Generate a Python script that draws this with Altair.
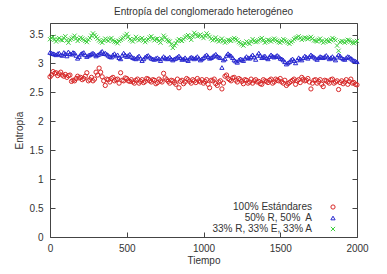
import altair as alt
import pandas as pd

tiempo_a = list(range(0, 2001, 20))
tiempo_b = list(range(10, 2000, 20))

estandares_a = [
    2.77, 2.86, 2.84, 2.82, 2.80, 2.81, 2.79, 2.69, 2.70, 2.78,
    2.76, 2.74, 2.84, 2.72, 2.70, 2.85, 2.92, 2.77, 2.62, 2.72,
    2.74, 2.70, 2.73, 2.84, 2.70, 2.74, 2.69, 2.68, 2.71, 2.66,
    2.72, 2.69, 2.73, 2.68, 2.71, 2.67, 2.70, 2.83, 2.72, 2.66,
    2.70, 2.64, 2.58, 2.71, 2.68, 2.72, 2.66, 2.70, 2.74, 2.68,
    2.66, 2.72, 2.58, 2.70, 2.65, 2.68, 2.56, 2.78, 2.74, 2.70,
    2.76, 2.68, 2.72, 2.65, 2.71, 2.68, 2.66, 2.72, 2.69, 2.64,
    2.70, 2.67, 2.73, 2.68, 2.71, 2.74, 2.66, 2.62, 2.67, 2.71,
    2.64, 2.72, 2.76, 2.70, 2.74, 2.56, 2.71, 2.66, 2.72, 2.60,
    2.70, 2.66, 2.73, 2.68, 2.55, 2.70, 2.68, 2.64, 2.73, 2.67,
    2.63,
]
estandares_b = [
    2.80, 2.83, 2.79, 2.85, 2.78, 2.76, 2.80, 2.71, 2.74, 2.75,
    2.72, 2.78, 2.70, 2.76, 2.73, 2.80, 2.85, 2.70, 2.73, 2.68,
    2.76, 2.72, 2.66, 2.71, 2.75, 2.70, 2.72, 2.66, 2.73, 2.69,
    2.67, 2.74, 2.70, 2.72, 2.65, 2.73, 2.68, 2.75, 2.69, 2.71,
    2.67, 2.73, 2.69, 2.65, 2.74, 2.69, 2.72, 2.67, 2.70, 2.72,
    2.69, 2.64, 2.71, 2.73, 2.62, 2.70, 2.66, 2.80, 2.72, 2.75,
    2.71, 2.74, 2.69, 2.72, 2.66, 2.73, 2.70, 2.68, 2.65, 2.72,
    2.69, 2.71, 2.66, 2.73, 2.70, 2.68, 2.71, 2.65, 2.69, 2.73,
    2.70, 2.67, 2.73, 2.71, 2.68, 2.66, 2.72, 2.69, 2.64, 2.71,
    2.68, 2.72, 2.66, 2.70, 2.67, 2.65, 2.72, 2.69, 2.66, 2.64,
]

r50_a50_a = [
    3.19, 3.17, 3.15, 3.18, 3.14, 3.17, 3.20, 3.16, 3.18, 3.09,
    3.16, 3.19, 3.12, 3.15, 3.18, 3.13, 3.16, 3.21, 3.18, 3.14,
    3.11, 3.17, 3.15, 3.08, 3.18, 3.12, 3.16, 3.10, 3.08, 3.13,
    3.05, 3.11, 3.14, 3.09, 3.07, 3.10, 3.05, 3.12, 3.08, 3.11,
    3.06, 3.09, 3.13, 3.07, 3.10, 3.05, 3.11, 3.08, 3.12, 3.06,
    3.10, 3.15, 3.09, 3.12, 3.16, 3.11, 2.93, 3.08, 3.17, 3.13,
    3.06, 3.02, 3.08, 3.05, 3.12, 3.09, 3.15, 3.07, 3.18, 3.10,
    3.13, 3.08, 3.15, 3.11, 3.14, 3.09, 3.06, 2.99, 3.03, 3.08,
    3.01, 3.10, 3.06, 3.13, 3.09, 3.15, 3.11, 3.07, 3.12, 3.10,
    3.14, 3.08, 3.12, 3.06, 3.15, 3.10, 3.07, 3.12, 3.09, 3.05,
    3.03,
]
r50_a50_b = [
    3.18, 3.16, 3.17, 3.15, 3.19, 3.13, 3.17, 3.19, 3.14, 3.12,
    3.18, 3.15, 3.14, 3.17, 3.16, 3.15, 3.19, 3.17, 3.16, 3.12,
    3.15, 3.13, 3.10, 3.14, 3.15, 3.14, 3.12, 3.09, 3.11, 3.09,
    3.08, 3.13, 3.11, 3.08, 3.09, 3.08, 3.09, 3.10, 3.09, 3.08,
    3.08, 3.11, 3.10, 3.08, 3.07, 3.09, 3.10, 3.10, 3.09, 3.08,
    3.13, 3.12, 3.10, 3.14, 3.13, 3.10, 3.06, 3.14, 3.15, 3.10,
    3.04, 3.06, 3.07, 3.09, 3.10, 3.12, 3.11, 3.14, 3.14, 3.12,
    3.10, 3.12, 3.13, 3.12, 3.12, 3.08, 3.03, 3.01, 3.06, 3.05,
    3.06, 3.08, 3.10, 3.11, 3.12, 3.13, 3.09, 3.10, 3.11, 3.12,
    3.11, 3.10, 3.09, 3.11, 3.13, 3.08, 3.10, 3.11, 3.07, 3.04,
]

r33_e33_a33_a = [
    3.42, 3.46, 3.38, 3.44, 3.40, 3.47, 3.36, 3.43, 3.48, 3.39,
    3.45, 3.41, 3.37, 3.44, 3.52, 3.46, 3.40, 3.36, 3.43, 3.39,
    3.44, 3.38, 3.35, 3.41, 3.45, 3.51, 3.42, 3.38, 3.46, 3.40,
    3.44, 3.37, 3.42, 3.47, 3.40, 3.43, 3.36, 3.48, 3.41, 3.38,
    3.27, 3.35, 3.42, 3.39, 3.45, 3.49, 3.41, 3.53, 3.47, 3.50,
    3.44, 3.52, 3.46, 3.40, 3.45, 3.38, 3.43, 3.36, 3.41, 3.39,
    3.44, 3.40, 3.35, 3.31, 3.38, 3.34, 3.42, 3.37, 3.40, 3.44,
    3.36, 3.41, 3.38, 3.43, 3.39, 3.36, 3.42, 3.38, 3.34, 3.39,
    3.44, 3.47, 3.41, 3.45, 3.42, 3.46, 3.40, 3.38, 3.43, 3.36,
    3.41, 3.38, 3.44, 3.40, 3.22, 3.39, 3.36, 3.41, 3.38, 3.35,
    3.39,
]
r33_e33_a33_b = [
    3.44, 3.41, 3.42, 3.41, 3.44, 3.40, 3.41, 3.45, 3.43, 3.42,
    3.43, 3.39, 3.41, 3.48, 3.49, 3.43, 3.38, 3.40, 3.41, 3.42,
    3.40, 3.37, 3.39, 3.43, 3.48, 3.46, 3.40, 3.42, 3.43, 3.42,
    3.40, 3.40, 3.45, 3.43, 3.42, 3.39, 3.42, 3.45, 3.39, 3.33,
    3.31, 3.39, 3.40, 3.42, 3.47, 3.45, 3.47, 3.50, 3.48, 3.47,
    3.48, 3.49, 3.43, 3.42, 3.41, 3.40, 3.39, 3.38, 3.40, 3.42,
    3.42, 3.37, 3.33, 3.35, 3.36, 3.38, 3.39, 3.38, 3.42, 3.40,
    3.38, 3.40, 3.41, 3.41, 3.37, 3.39, 3.40, 3.36, 3.37, 3.42,
    3.45, 3.44, 3.43, 3.44, 3.44, 3.43, 3.39, 3.41, 3.39, 3.38,
    3.39, 3.41, 3.42, 3.31, 3.37, 3.38, 3.38, 3.40, 3.36, 3.37,
]

series_names = ["100% Estándares", "50% R, 50%\u00a0 A", "33% R, 33% E, 33% A"]
series_colors = ["#d82828", "#2828d0", "#3fcf3f"]
x_ticks = [0, 500, 1000, 1500, 2000]
y_ticks = [0, 0.5, 1, 1.5, 2, 2.5, 3, 3.5]

XSHAPE = "M-1,-1L1,1M-1,1L1,-1"
series_shapes = ["circle", "triangle-up", XSHAPE]

series_data = [
    (estandares_a, estandares_b),
    (r50_a50_a, r50_a50_b),
    (r33_e33_a33_a, r33_e33_a33_b),
]

rows = []
for name, (va, vb) in zip(series_names, series_data):
    for t, v in zip(tiempo_a, va):
        rows.append({"Tiempo": t, "Entropia": v, "serie": name})
    for t, v in zip(tiempo_b, vb):
        rows.append({"Tiempo": t, "Entropia": v, "serie": name})
df = pd.DataFrame(rows)

W, H = 307, 214
FONT = "Liberation Sans"
TXT = "#333333"

xscale = alt.Scale(domain=[0, 2000], nice=False)
yscale = alt.Scale(domain=[0, 3.7], nice=False, zero=True)

points = alt.Chart(df).mark_point(filled=False, strokeWidth=1, size=18, opacity=1).encode(
    x=alt.X("Tiempo:Q", scale=xscale,
            axis=alt.Axis(values=x_ticks, title="Tiempo", format="d", labelFlush=False,
                          grid=True, gridDash=[5, H - 10, 5, 2000])),
    y=alt.Y("Entropia:Q", scale=yscale,
            axis=alt.Axis(values=y_ticks, title="Entropía", format="~g", labelFlush=False,
                          grid=True, gridDash=[5, W - 10, 5, 2000])),
    color=alt.Color("serie:N", scale=alt.Scale(domain=series_names, range=series_colors), legend=None),
    shape=alt.Shape("serie:N", scale=alt.Scale(domain=series_names, range=series_shapes), legend=None),
)

legend_layers = []
leg_y = [207, 218, 229]
for name, color, shape, yy in zip(series_names, series_colors, series_shapes, leg_y):
    ly = yy - 23
    legend_layers.append(
        alt.Chart(pd.DataFrame({"label": [name]})).mark_text(
            align="right", baseline="middle", font=FONT, fontSize=10, color=TXT
        ).encode(x=alt.value(312 - 50), y=alt.value(ly), text="label:N")
    )
    legend_layers.append(
        alt.Chart(pd.DataFrame({"label": [name]})).mark_point(
            filled=False, strokeWidth=1, size=18, shape=shape, color=color, opacity=1
        ).encode(x=alt.value(333 - 50), y=alt.value(ly))
    )

chart = alt.layer(points, *legend_layers).properties(
    width=W, height=H,
    title=alt.TitleParams("Entropía del conglomerado heterogéneo", font=FONT, fontSize=10,
                          fontWeight="normal", color=TXT, offset=6),
    padding={"left": 50, "top": 23, "right": 30, "bottom": 37},
    autosize="none",
).configure_view(
    stroke="#444444", strokeWidth=1
).configure_axis(
    labelFont=FONT, labelFontSize=10, labelColor=TXT,
    titleFont=FONT, titleFontSize=10, titleColor=TXT, titleFontWeight="normal",
    ticks=False, domain=False, gridColor="#444444", gridOpacity=1, gridWidth=1,
).configure_axisX(
    labelPadding=6, titlePadding=2
).configure_axisY(
    labelPadding=7, titlePadding=5
)

chart.save("out.html", embed_options={"renderer": "svg", "actions": False})
